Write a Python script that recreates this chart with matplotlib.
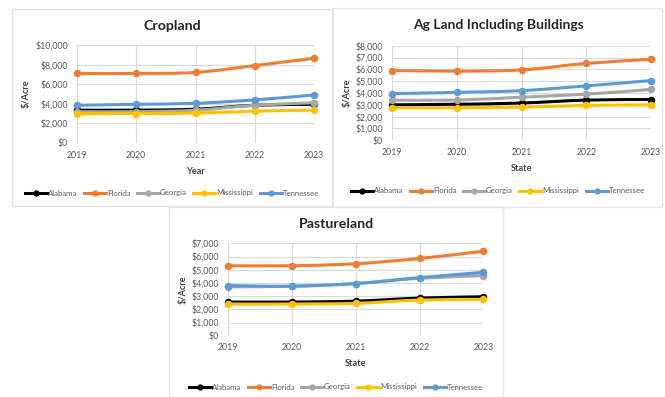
import matplotlib
matplotlib.use("Agg")
import matplotlib.pyplot as plt
from matplotlib.patches import Rectangle, PathPatch
from matplotlib.path import Path
from matplotlib.lines import Line2D
from matplotlib.ticker import FuncFormatter, MultipleLocator

W, H = 665, 397
DPI = 100

years = [2019, 2020, 2021, 2022, 2023]
states = ["Alabama", "Florida", "Georgia", "Mississippi", "Tennessee"]
colors = ["#000000", "#ED7D31", "#A5A5A5", "#FFC000", "#5B9BD5"]

# $/acre by state
cropland = {
    "Alabama":     [3350, 3350, 3450, 3850, 3950],
    "Florida":     [7100, 7100, 7200, 7900, 8650],
    "Georgia":     [3200, 3200, 3350, 3850, 4100],
    "Mississippi": [3000, 3000, 3050, 3250, 3350],
    "Tennessee":   [3850, 3950, 4050, 4400, 4900],
}
ag_land = {
    "Alabama":     [3000, 3050, 3150, 3400, 3450],
    "Florida":     [5900, 5850, 5950, 6500, 6850],
    "Georgia":     [3400, 3400, 3650, 3900, 4300],
    "Mississippi": [2750, 2750, 2800, 2950, 3000],
    "Tennessee":   [3950, 4050, 4200, 4600, 5050],
}
pastureland = {
    "Alabama":     [2550, 2550, 2620, 2850, 2950],
    "Florida":     [5300, 5300, 5450, 5850, 6400],
    "Georgia":     [3700, 3750, 3950, 4350, 4550],
    "Mississippi": [2400, 2400, 2450, 2700, 2750],
    "Tennessee":   [3800, 3750, 3950, 4400, 4800],
}

TEXT = "#595959"
GRID = "#D9D9D9"
FONT = "Lato"

fig = plt.figure(figsize=(W / DPI, H / DPI), dpi=DPI)
fig.patch.set_facecolor("white")


def fx(px):
    return px / W


def fy(py):
    return 1 - py / H


def panel_box(x0, y0, x1, y1):
    fig.patches.append(Rectangle((fx(x0), fy(y1)), fx(x1 - x0), (y1 - y0) / H,
                                 transform=fig.transFigure, facecolor="none",
                                 edgecolor="#E3E3E3", linewidth=1.0, zorder=-5))


def money(v, _):
    return f"${v:,.0f}"


def smooth_path(xs, ys):
    """Cubic Bezier path through the points (Catmull-Rom style tangents)."""
    pts = list(zip(xs, ys))
    n = len(pts)
    verts = [pts[0]]
    codes = [Path.MOVETO]
    for i in range(n - 1):
        p0 = pts[i - 1] if i > 0 else pts[i]
        p1 = pts[i]
        p2 = pts[i + 1]
        p3 = pts[i + 2] if i + 2 < n else pts[i + 1]
        c1 = (p1[0] + (p2[0] - p0[0]) / 6, p1[1] + (p2[1] - p0[1]) / 6)
        c2 = (p2[0] - (p3[0] - p1[0]) / 6, p2[1] - (p3[1] - p1[1]) / 6)
        verts += [c1, c2, p2]
        codes += [Path.CURVE4] * 3
    return Path(verts, codes)


def chart(data, title, xlabel, plot_px, ymax, ystep, title_y, legend_y, cx,
          title_size):
    x0, y0, x1, y1 = plot_px
    ax = fig.add_axes([fx(x0), fy(y1), fx(x1 - x0), (y1 - y0) / H])
    ax.set_facecolor("none")
    for k, (name, c) in enumerate(zip(states, colors)):
        ax.add_patch(PathPatch(smooth_path(years, data[name]), facecolor="none",
                               edgecolor=c, lw=2.2, capstyle="round",
                               zorder=3 + k * 0.1, clip_on=False))
        ax.plot(years, data[name], linestyle="none", marker="o", ms=4.4,
                color=c, zorder=3 + k * 0.1 + 0.05, clip_on=False)
    ax.set_xlim(2019, 2023)
    ax.set_ylim(0, ymax)
    ax.yaxis.set_major_locator(MultipleLocator(ystep))
    ax.yaxis.set_major_formatter(FuncFormatter(money))
    ax.set_xticks(years)
    ax.grid(True, color=GRID, lw=0.8)
    ax.set_axisbelow(True)
    for s in ax.spines.values():
        s.set_visible(False)
    ax.tick_params(axis="y", length=0, labelsize=6.3, colors=TEXT, pad=6.5)
    ax.tick_params(axis="x", length=0, labelsize=6.3, colors=TEXT, pad=5.5)
    for lab in ax.get_xticklabels() + ax.get_yticklabels():
        lab.set_fontfamily(FONT)
    ax.set_ylabel("$/Acre", fontsize=6.6, fontweight="bold", color="#404040",
                  family=FONT, labelpad=3)
    ax.set_xlabel(xlabel, fontsize=6.6, fontweight="bold", color="#404040",
                  family=FONT, labelpad=5)
    fig.text(fx(cx), fy(title_y), title, ha="center", va="center",
             fontsize=title_size, fontweight="bold", color="#262626", family=FONT)
    handles = [Line2D([], [], color=c, lw=2.2, marker="o", ms=3.5) for c in colors]
    leg = fig.legend(handles, states, loc="center", ncol=5,
                     bbox_to_anchor=(fx(cx), fy(legend_y)), frameon=False,
                     prop={"family": FONT, "size": 5.6}, handlelength=2.8,
                     handletextpad=0.15, columnspacing=0.85, borderpad=0,
                     borderaxespad=0)
    for t in leg.get_texts():
        t.set_color(TEXT)
    return ax


panel_box(12, 9, 332, 206)
panel_box(333, 8, 662, 207)
panel_box(169, 207, 503, 400)

chart(cropland, "Cropland", "Year", (77, 45, 314, 143), 10000, 2000,
      title_y=26, legend_y=193, cx=172, title_size=10.2)
chart(ag_land, "Ag Land Including Buildings", "State", (392, 45.7, 651, 140.3),
      8000, 1000, title_y=25, legend_y=191, cx=498, title_size=10.0)
chart(pastureland, "Pastureland", "State", (228.3, 243.3, 483.3, 335.7),
      7000, 1000, title_y=224, legend_y=387, cx=336, title_size=10.2)

fig.savefig("out.png", dpi=DPI)
